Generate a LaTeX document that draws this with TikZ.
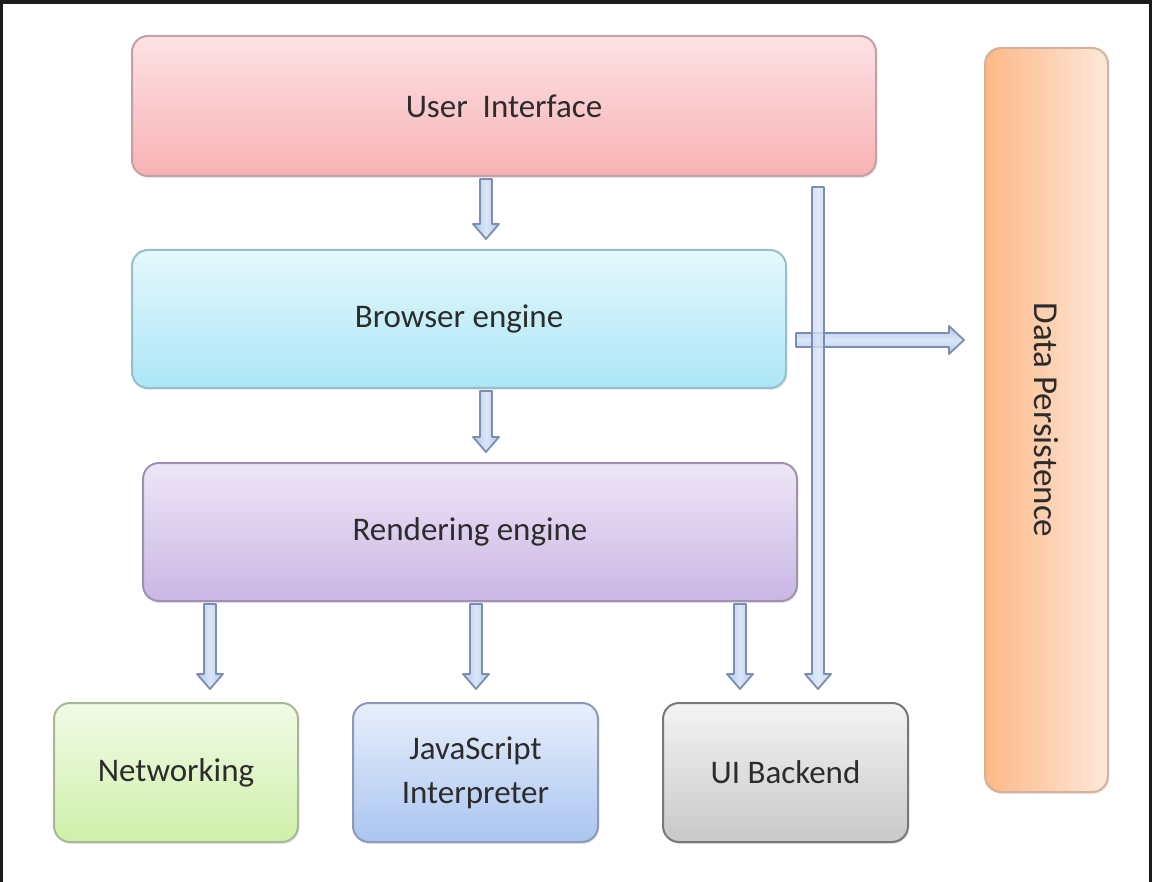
\documentclass[tikz,border=0pt]{standalone}
\usepackage{fontspec}
\setmainfont{Carlito}
\usetikzlibrary{calc,shadows}

\definecolor{txt}{RGB}{44,44,44}
\definecolor{framecol}{RGB}{28,28,28}
\definecolor{arrowfill}{RGB}{176,199,238}
\definecolor{arrowline}{RGB}{124,142,174}
% box colours: top, bottom, border
\definecolor{uiT}{RGB}{253,226,229}\definecolor{uiB}{RGB}{248,178,181}\definecolor{uiL}{RGB}{196,160,164}
\definecolor{beT}{RGB}{228,248,253}\definecolor{beB}{RGB}{172,230,246}\definecolor{beL}{RGB}{150,190,205}
\definecolor{reT}{RGB}{238,230,247}\definecolor{reB}{RGB}{202,182,228}\definecolor{reL}{RGB}{158,146,176}
\definecolor{nwT}{RGB}{242,251,230}\definecolor{nwB}{RGB}{206,240,170}\definecolor{nwL}{RGB}{168,184,150}
\definecolor{jsT}{RGB}{232,239,252}\definecolor{jsB}{RGB}{170,197,240}\definecolor{jsL}{RGB}{140,154,184}
\definecolor{ubT}{RGB}{244,244,244}\definecolor{ubB}{RGB}{200,200,200}\definecolor{ubL}{RGB}{120,120,120}
\definecolor{dpLeft}{RGB}{253,184,134}\definecolor{dpRight}{RGB}{253,232,218}\definecolor{dpL}{RGB}{210,178,156}

\tikzset{
  box/.style={rounded corners=8pt, line width=1pt, inner sep=0pt,
    text=txt, font=\fontsize{16.5}{22}\selectfont, align=center,
    drop shadow={opacity=0.18, shadow xshift=0.6pt, shadow yshift=-1pt}},
  label/.style={text=txt, font=\fontsize{17.5}{22}\selectfont, inner sep=0pt},
  arrowbody/.style={draw=arrowline, line width=0.9pt, line join=round},
  downarrow/.style={arrowbody, left color=arrowfill, right color=arrowfill, middle color=arrowfill!45!white,
    to path={let \p1=(\tikztostart), \p2=(\tikztotarget) in
      (\x1-3pt,\y1) -- (\x1+3pt,\y1) -- (\x1+3pt,\y2+7.5pt) -- (\x1+6.5pt,\y2+7.5pt)
      -- (\x1,\y2) -- (\x1-6.5pt,\y2+7.5pt) -- (\x1-3pt,\y2+7.5pt) -- cycle}},
  rightarrow/.style={arrowbody, top color=arrowfill, bottom color=arrowfill, middle color=arrowfill!45!white,
    to path={let \p1=(\tikztostart), \p2=(\tikztotarget) in
      (\x1,\y1+3.5pt) -- (\x2-7.5pt,\y1+3.5pt) -- (\x2-7.5pt,\y1+7pt) -- (\x2,\y1)
      -- (\x2-7.5pt,\y1-7pt) -- (\x2-7.5pt,\y1-3.5pt) -- (\x1,\y1-3.5pt) -- cycle}}
}

\begin{document}
\begin{tikzpicture}[x=0.5pt,y=-0.5pt]
  % canvas and dark frame
  \fill[white] (0,0) rectangle (1152,882);
  \useasboundingbox (0,0) rectangle (1152,882);
  \fill[framecol] (0,0) rectangle (1152,4);
  \fill[framecol] (0,0) rectangle (3,882);
  \fill[framecol] (1149,0) rectangle (1152,882);

  % components
  \node[box, draw=uiL, top color=uiT, bottom color=uiB, minimum width=372pt, minimum height=70pt]
    (ui) at (504,106) {User\ \ Interface};
  \node[box, draw=beL, top color=beT, bottom color=beB, minimum width=327pt, minimum height=69pt]
    (be) at (459,319) {Browser engine};
  \node[box, draw=reL, top color=reT, bottom color=reB, minimum width=327pt, minimum height=69pt]
    (re) at (470,532) {Rendering engine};
  \node[box, draw=nwL, top color=nwT, bottom color=nwB, minimum width=122pt, minimum height=69.5pt]
    (net) at (176,772.5) {Networking};
  \node[box, draw=jsL, top color=jsT, bottom color=jsB, minimum width=122.5pt, minimum height=69.5pt]
    (js) at (475.5,772.5) {JavaScript\\Interpreter};
  \node[box, draw=ubL, top color=ubT, bottom color=ubB, minimum width=122.5pt, minimum height=69.5pt]
    (uib) at (785.5,772.5) {UI Backend};
  \node[box, draw=dpL, left color=dpLeft, right color=dpRight, minimum width=61.5pt, minimum height=372pt]
    (dp) at (1046.5,420) {};
  \node[label, rotate=-90] (dptext) at (dp.center) {Data Persistence};

  % block arrows
  \draw[downarrow] ([xshift=-9pt,yshift=-1pt]ui.south) to ([yshift=5pt]be.north);
  \draw[downarrow] ([xshift=13.5pt,yshift=-1pt]be.south) to ([yshift=5pt]re.north);
  \draw[downarrow] ([xshift=-130pt,yshift=-1pt]re.south) to ([yshift=6.5pt]net.north);
  \draw[downarrow] ([xshift=3pt,yshift=-1pt]re.south) to ([yshift=6.5pt]js.north);
  \draw[downarrow] ([xshift=135pt,yshift=-1pt]re.south) to ([yshift=6.5pt]uib.north);
  \draw[rightarrow] ([xshift=4.5pt,yshift=-10.5pt]be.east) to ([xshift=-10pt]dp.west);
  \draw[downarrow, fill opacity=0.8] ([xshift=157pt,yshift=-5pt]ui.south) to ([yshift=6.5pt]uib.north);
\end{tikzpicture}
\end{document}
